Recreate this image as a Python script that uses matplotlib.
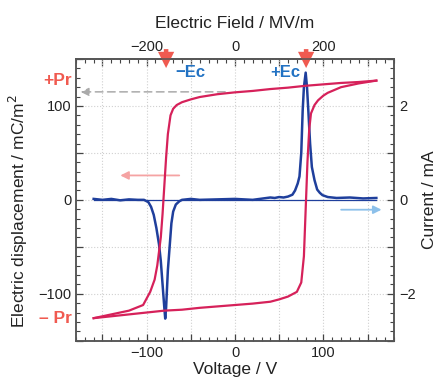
import matplotlib
matplotlib.use("Agg")
import matplotlib.pyplot as plt
from matplotlib.ticker import MultipleLocator, FuncFormatter

plt.rcParams['font.family'] = ['Liberation Sans', 'DejaVu Sans']

# ---- data ----
# upper (descending) branch of the D-V loop
v_down = [160, 140, 120, 100, 80, 60, 40, 20, 0, -20, -40, -50, -60, -66, -70, -73,
          -76, -78, -80, -82, -84, -86, -88, -91, -96, -104, -120, -140, -160]
d_down = [127, 125.5, 124.5, 123, 121.5, 119.5, 118, 116, 114.5, 112.5, 109.5, 107, 104, 101, 97, 90,
          70, 45, 15, -15, -40, -55, -70, -85, -98, -112, -118, -122, -126]
# lower (ascending) branch
v_up = [-160, -140, -120, -100, -80, -60, -40, -20, 0, 20, 40, 50, 60, 70, 75, 78,
        80, 82, 84, 86, 90, 94, 100, 105, 120, 140, 160]
d_up = [-126, -124, -122, -120, -118, -117, -115, -113.5, -112, -110.5, -108.5, -106, -103, -98, -88, -60,
        -10, 40, 75, 92, 101, 106, 111, 114, 120, 124, 127]

# switching current
v_cur = [-160, -150, -140, -130, -120, -110, -103, -98, -95, -92, -89, -86, -84, -82, -80, -79,
         -78, -76, -74, -72, -70, -67, -63, -60, -50, -40, -20, 0, 20, 40, 45, 50, 55, 60, 65, 68,
         71, 73, 75, 76.6, 78, 80, 81.5, 83, 85, 87, 90, 93, 96, 99, 105, 115, 130, 145, 160]
i_cur = [0.02, 0.0, 0.02, -0.01, 0.01, 0.0, 0.0, -0.05, -0.15, -0.32, -0.6, -0.95, -1.3, -1.8, -2.3, -2.53,
         -2.3, -1.5, -1.0, -0.5, -0.25, -0.1, -0.03, 0.0, 0.02, 0.0, 0.01, 0.02, 0.0, 0.05, 0.04, 0.06, 0.05, 0.07, 0.11, 0.2,
         0.35, 0.5, 1.0, 1.9, 2.4, 2.71, 2.4, 1.9, 1.2, 0.7, 0.42, 0.22, 0.15, 0.1, 0.06, 0.04, 0.05, 0.03, 0.04]

ec_neg, ec_pos = -78, 80.5
pr_pos, pr_neg = 115, -126

red = '#d6215a'
blue = '#1f3f9c'
salmon = '#f05a50'
txtblue = '#2272c3'

fig = plt.figure(figsize=(4.4, 3.78), dpi=100)
ax = fig.add_axes([0.1727, 0.0987, 0.7228, 0.7452])
ax2 = ax.twinx()

ax.set_xlim(-180, 180)
ax.set_ylim(-150, 150)
ax2.set_ylim(-3, 3)

# grid
ax.grid(True, which='major', color='#d0d0d0', linestyle=':', linewidth=0.8)
ax.set_axisbelow(True)

# current
ax2.plot([-160, 160], [0, 0], color=blue, lw=0.9, zorder=2)
ax2.plot(v_cur, i_cur, color=blue, lw=1.8, zorder=3)
# loop (drawn on top)
ax3 = ax.twinx()
ax3.set_ylim(-150, 150)
ax3.axis('off')
ax3.plot(v_down, d_down, color=red, lw=1.6, zorder=4)
ax3.plot(v_up, d_up, color=red, lw=1.6, zorder=4)

# ticks
def fmt(step):
    def f(v, pos):
        if abs(round(v / step) * step - v) < 1e-6:
            return ('%d' % v).replace('-', '\u2212')
        return ''
    return FuncFormatter(f)

ax.xaxis.set_major_locator(MultipleLocator(50))
ax.xaxis.set_minor_locator(MultipleLocator(10))
ax.xaxis.set_major_formatter(fmt(100))
ax.yaxis.set_major_locator(MultipleLocator(50))
ax.yaxis.set_minor_locator(MultipleLocator(10))
ax.yaxis.set_major_formatter(fmt(100))
ax2.yaxis.set_major_locator(MultipleLocator(1))
ax2.yaxis.set_minor_locator(MultipleLocator(0.2))
ax2.yaxis.set_major_formatter(fmt(2))

top = ax.secondary_xaxis('top', functions=(lambda v: 2 * v, lambda e: e / 2))
top.xaxis.set_major_locator(MultipleLocator(100))
top.xaxis.set_minor_locator(MultipleLocator(20))
top.xaxis.set_major_formatter(fmt(200))

for a in (ax, ax2, top):
    a.tick_params(which='major', direction='in', length=5, width=0.9, colors='#444444',
                  labelsize=10.5, labelcolor='#222222')
    a.tick_params(which='minor', direction='in', length=2.8, width=0.8, colors='#444444')
for s in ax.spines.values():
    s.set_color('#555555'); s.set_linewidth(1.1)
for s in ax2.spines.values():
    s.set_color('#555555'); s.set_linewidth(1.1)
top.spines['top'].set_color('#555555'); top.spines['top'].set_linewidth(1.1)

ax.set_xlabel('Voltage / V', fontsize=12.5, labelpad=2, color='#222222')
top.set_xlabel('Electric Field / MV/m', fontsize=12.5, labelpad=9, color='#222222')
ax.set_ylabel('Electric displacement / mC/m$^2$', fontsize=12.5, color='#222222')
ax.yaxis.set_label_coords(-0.145, 0.46)
ax2.set_ylabel('Current / mA', fontsize=12.5, color='#222222', labelpad=5)

# annotations
ax.annotate('', xy=(-178, pr_pos), xytext=(-8, pr_pos),
            arrowprops=dict(arrowstyle='-|>', color='#aaaaaa', lw=1.1, linestyle=(0, (5, 3)),
                            mutation_scale=12), zorder=1)
ax.annotate('', xy=(-133, 26), xytext=(-60, 26),
            arrowprops=dict(arrowstyle='-|>', color='#f5a3a3', lw=1.3, mutation_scale=12))
ax2.annotate('', xy=(169, -0.21), xytext=(117, -0.21),
             arrowprops=dict(arrowstyle='-|>', color='#8cc0ea', lw=1.3, mutation_scale=12))

for xe in (ec_neg, ec_pos):
    ax.annotate('', xy=(xe, 0.958), xycoords=('data', 'axes fraction'),
                xytext=(xe, 1.045), textcoords=('data', 'axes fraction'),
                arrowprops=dict(arrowstyle='simple,head_length=0.9,head_width=0.9,tail_width=0.25',
                                color=salmon, lw=0, mutation_scale=13),
                annotation_clip=False, zorder=10)

ax.text(-67, 0.952, '\u2212Ec', transform=ax.get_xaxis_transform(), color=txtblue,
        fontsize=12, fontweight='bold', ha='left', va='center')
ax.text(74.5, 0.952, '+Ec', transform=ax.get_xaxis_transform(), color=txtblue,
        fontsize=12, fontweight='bold', ha='right', va='center')
ax.text(-0.013, 127, '+Pr', transform=ax.get_yaxis_transform(), color=salmon,
        fontsize=12.5, fontweight='bold', ha='right', va='center')
ax.text(-0.013, -126, '\u2013 Pr', transform=ax.get_yaxis_transform(), color=salmon,
        fontsize=12.5, fontweight='bold', ha='right', va='center')

fig.savefig('out.png', dpi=100)
